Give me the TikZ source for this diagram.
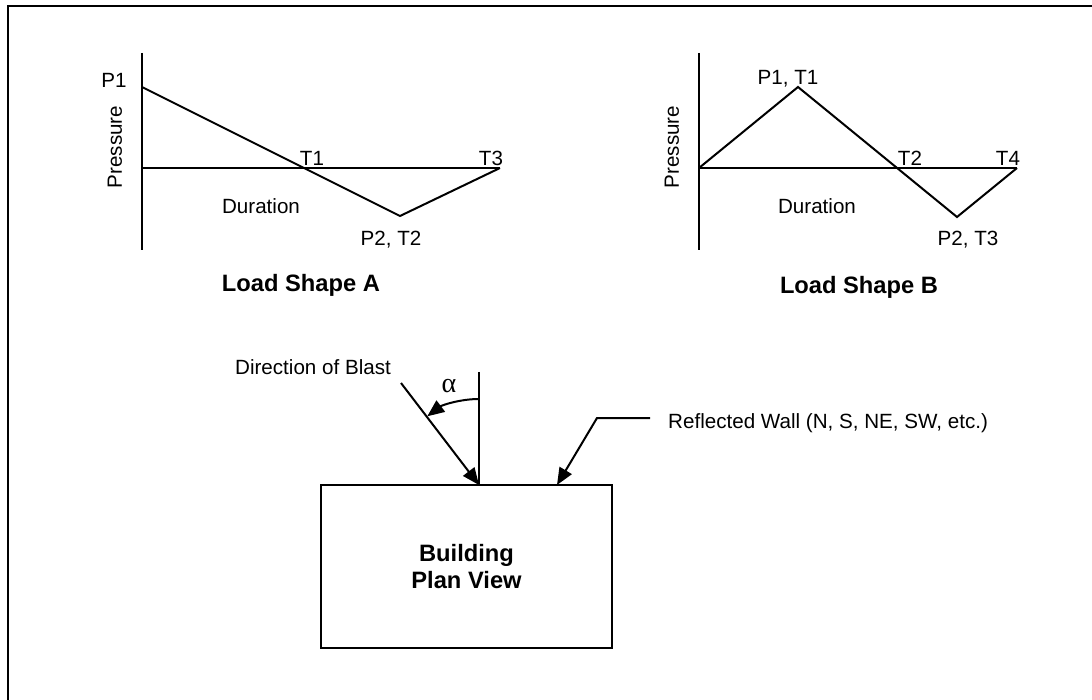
\documentclass[tikz,border=0pt]{standalone}
\usepackage{fontspec}
\setmainfont{Liberation Sans}
\newfontfamily\greekfont{Liberation Serif}
\usetikzlibrary{positioning,arrows.meta}
\tikzset{
  frame/.style={line width=2.2pt},
  axis/.style={line width=2pt},
  curve/.style={line width=2pt,line join=miter},
  lbl/.style={font=\fontsize{20.6}{24}\selectfont,inner sep=0pt},
  ttl/.style={font=\fontsize{23.7}{27}\selectfont\bfseries,inner sep=0pt,align=center},
  blast/.style={line width=2pt,-{Triangle[length=17pt,width=14pt]}},
  bldbox/.style={draw,line width=2pt,minimum width=291pt,minimum height=163pt,inner sep=0pt}
}

\begin{document}
\begin{tikzpicture}[x=1pt,y=-1pt]
  \useasboundingbox (0,0) rectangle (1092,700);
  \draw[frame] (8,700) -- (8,6) -- (1092,6);

  % load shape A
  \coordinate (atop) at (142,53);  \coordinate (abot) at (142,250);
  \coordinate (a0) at (142,168);   \coordinate (aend) at (500,168);
  \coordinate (ap1) at (142,87);   \coordinate (ap2) at (400,216);
  \draw[axis] (atop) -- (abot); \draw[axis] (a0) -- (aend);
  \draw[curve] (ap1) -- (ap2) -- (aend);
  \node[lbl] (aP1) at (114,80) {P1};
  \node[lbl,rotate=90] (aprs) at (115,147) {Pressure};
  \node[lbl] (aT1) at (312,158) {T1};
  \node[lbl] (aT3) at (491,158) {T3};
  \node[lbl] (adur) at (261,206) {Duration};
  \node[lbl] (aP2) at (391,240) {P2, T2};
  \node[ttl] (atitle) at (301,285) {Load Shape A};

  % load shape B
  \coordinate (btop) at (699,53);  \coordinate (bbot) at (699,250);
  \coordinate (b0) at (699,168);   \coordinate (bend) at (1017,168);
  \coordinate (bp1) at (798,87);   \coordinate (bp2) at (957,217);
  \draw[axis] (btop) -- (bbot); \draw[axis] (b0) -- (bend);
  \draw[curve] (b0) -- (bp1) -- (bp2) -- (bend);
  \node[lbl] (bP1) at (788,79) {P1, T1};
  \node[lbl,rotate=90] (bprs) at (672,147) {Pressure};
  \node[lbl] (bT2) at (910,158) {T2};
  \node[lbl] (bT4) at (1008,158) {T4};
  \node[lbl] (bdur) at (817,206) {Duration};
  \node[lbl] (bP2) at (968,240) {P2, T3};
  \node[ttl] (btitle) at (859,287) {Load Shape B};

  % plan view
  \node[bldbox,ttl] (bld) at (466.5,566.5) {Building\\Plan View};
  \coordinate (nrm) at (479,485);
  \coordinate (ntop) at (479,372);
  \coordinate (bsrc) at (401,383);
  \coordinate (rwtip) at (557,485);
  \draw[axis] (ntop) -- (nrm);
  \draw[blast] (bsrc) -- (nrm);
  \draw[blast] (479,399) arc[start angle=-90,end angle=-127,radius=86];
  \node[font=\fontsize{28}{32}\greekfont,inner sep=0pt] (alph) at (449,386) {α};
  \node[lbl] (dob) at (313,367) {Direction of Blast};
  \node[lbl,anchor=west] (rwlbl) at (668,423) {Reflected Wall (N, S, NE, SW, etc.)};
  \draw[blast] ([xshift=-18pt,yshift=5pt]rwlbl.west) -- ++(-53,0) -- (rwtip);
\end{tikzpicture}
\end{document}
